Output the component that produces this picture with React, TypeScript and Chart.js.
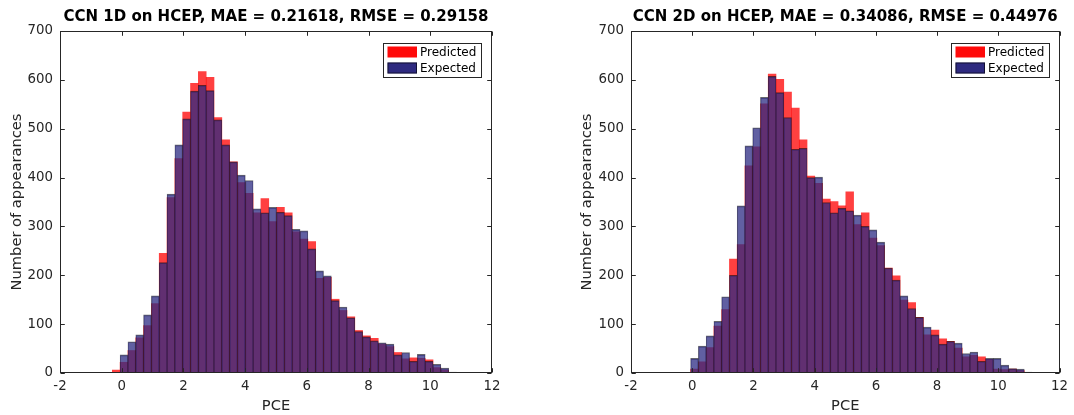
import React, { useEffect, useRef } from "react";
import { Chart, registerables } from "chart.js";

Chart.register(...registerables);

// ---- data ----
const binStart = -0.305;
const binWidth = 0.2535;

const xTickValues = [-2, 0, 2, 4, 6, 8, 10, 12];
const yTickValues = [0, 100, 200, 300, 400, 500, 600, 700];

const seriesNames = ["Predicted", "Expected"];

const titles = [
  "CCN 1D on HCEP, MAE = 0.21618, RMSE = 0.29158",
  "CCN 2D on HCEP, MAE = 0.34086, RMSE = 0.44976",
];

const predicted1D = [
  6, 22, 46, 72, 97, 142, 245, 359, 439, 534, 593, 617, 605, 523, 477, 432, 390, 368, 328, 357,
  310, 339, 328, 289, 274, 269, 194, 196, 151, 128, 115, 87, 76, 71, 59, 54, 42, 29, 31, 30,
  27, 11, 6, 1, 1,
];
const expected1D = [
  0, 37, 64, 78, 119, 158, 226, 366, 467, 520, 577, 589, 578, 518, 467, 432, 405, 394, 336, 328,
  339, 329, 322, 294, 291, 254, 209, 199, 148, 135, 113, 85, 74, 66, 62, 59, 37, 42, 24, 38,
  24, 18, 10, 2, 1,
];
const predicted2D = [
  0, 8, 23, 52, 96, 130, 233, 263, 424, 463, 551, 612, 601, 575, 542, 477, 403, 388, 356, 351,
  342, 371, 304, 328, 276, 261, 215, 199, 149, 144, 114, 78, 88, 70, 65, 51, 33, 36, 33, 28,
  8, 7, 8, 5, 1,
];
const expected2D = [
  0, 30, 55, 76, 106, 156, 200, 342, 465, 502, 564, 607, 574, 523, 458, 460, 400, 401, 349, 328,
  337, 332, 323, 300, 293, 268, 215, 190, 158, 132, 114, 94, 78, 59, 65, 61, 40, 43, 24, 30,
  30, 16, 9, 8, 2,
];

// ---- styles ----
const FONT = "'DejaVu Sans', sans-serif";
const AXIS_COLOR = "#262626";
const PRED_FILL = "rgba(255,0,0,0.75)";
const EXP_FILL = "rgba(42,40,130,0.74)";
const EXP_EDGE = "rgba(10,10,20,0.62)";
const LEGEND_FILLS = ["#ff0a0a", "#2e2a80"];

function toPoints(values: number[]) {
  return values.map((v, k) => ({
    x: binStart + (k + 0.5) * binWidth,
    y: v === 0 ? null : v,
  }));
}

const decorPlugin = {
  id: "matlabDecor",
  afterDraw(chart: any, _args: any, opts: any) {
    const { ctx, chartArea: a } = chart;
    const xs = chart.scales.x;
    const ys = chart.scales.y;
    ctx.save();

    // title
    ctx.fillStyle = "#000";
    ctx.font = `bold 15px ${FONT}`;
    ctx.textAlign = "center";
    ctx.textBaseline = "middle";
    ctx.fillText(opts.title, (a.left + a.right) / 2, 17.5);

    // box
    ctx.strokeStyle = AXIS_COLOR;
    ctx.lineWidth = 1;
    const L = Math.round(a.left) + 0.5;
    const R = Math.round(a.right) - 0.5;
    const T = Math.round(a.top) + 0.5;
    const B = Math.round(a.bottom) - 0.5;
    ctx.strokeRect(L, T, R - L, B - T);

    // inward ticks
    const tl = 4.3;
    ctx.beginPath();
    xTickValues.forEach((v) => {
      const px = Math.round(xs.getPixelForValue(v)) + 0.5;
      ctx.moveTo(px, B);
      ctx.lineTo(px, B - tl);
      ctx.moveTo(px, T);
      ctx.lineTo(px, T + tl);
    });
    yTickValues.forEach((v) => {
      const py = Math.round(ys.getPixelForValue(v)) + 0.5;
      ctx.moveTo(L, py);
      ctx.lineTo(L + tl, py);
      ctx.moveTo(R, py);
      ctx.lineTo(R - tl, py);
    });
    ctx.stroke();

    // legend
    const boxW = 98;
    const boxH = 34;
    const bx = Math.round(a.right - 11 - boxW);
    const by = Math.round(a.top + 12);
    ctx.fillStyle = "#fff";
    ctx.fillRect(bx, by, boxW, boxH);
    ctx.strokeStyle = AXIS_COLOR;
    ctx.strokeRect(bx + 0.5, by + 0.5, boxW, boxH);
    ctx.font = `12px ${FONT}`;
    ctx.textAlign = "left";
    ctx.textBaseline = "middle";
    chart.data.datasets.forEach((ds: any, i: number) => {
      const cy = by + 9 + i * 16;
      ctx.fillStyle = LEGEND_FILLS[i];
      ctx.fillRect(bx + 4.5, cy - 5.5, 29.5, 11);
      if (i === 1) {
        ctx.strokeStyle = "rgba(0,0,0,0.6)";
        ctx.strokeRect(bx + 5, cy - 5, 28.5, 10);
      }
      ctx.fillStyle = "#000";
      ctx.fillText(ds.label, bx + 37, cy + 0.5);
    });

    ctx.restore();
  },
};

function makeConfig(title: string, pred: number[], exp: number[], padLeft: number, yWidth: number, padRight: number): any {
  return {
    type: "bar",
    data: {
      datasets: [
        {
          label: seriesNames[0],
          data: toPoints(pred),
          backgroundColor: PRED_FILL,
          borderWidth: 0,
          grouped: false,
          order: 2,
          barPercentage: 1,
          categoryPercentage: 1,
        },
        {
          label: seriesNames[1],
          data: toPoints(exp),
          backgroundColor: EXP_FILL,
          borderColor: EXP_EDGE,
          borderWidth: { top: 1, left: 0.55, right: 0.55, bottom: 0 },
          borderSkipped: false,
          grouped: false,
          order: 1,
          barPercentage: 1,
          categoryPercentage: 1,
        },
      ],
    },
    options: {
      responsive: false,
      animation: false,
      layout: { padding: { left: padLeft, right: padRight, top: 31, bottom: 0 } },
      plugins: {
        legend: { display: false },
        tooltip: { enabled: false },
        title: { display: false },
        matlabDecor: { title },
      },
      scales: {
        x: {
          type: "linear",
          min: -2,
          max: 12,
          offset: false,
          grid: { display: false, drawTicks: false },
          border: { display: false },
          ticks: {
            stepSize: 2,
            color: AXIS_COLOR,
            font: { family: FONT, size: 13.33 },
            padding: 6,
            maxRotation: 0,
            autoSkip: false,
          },
          title: {
            display: true,
            text: "PCE",
            color: AXIS_COLOR,
            font: { family: FONT, size: 14.67 },
            padding: 0,
          },
          afterFit(scale: any) {
            scale.height = 42;
          },
        },
        y: {
          type: "linear",
          min: 0,
          max: 700,
          grid: { display: false, drawTicks: false },
          border: { display: false },
          ticks: {
            stepSize: 100,
            color: AXIS_COLOR,
            font: { family: FONT, size: 13.33 },
            padding: 7,
          },
          title: {
            display: true,
            text: "Number of appearances",
            color: AXIS_COLOR,
            font: { family: FONT, size: 14.67 },
            padding: 0,
          },
          afterFit(scale: any) {
            scale.width = yWidth;
          },
        },
      },
    },
    plugins: [decorPlugin],
  };
}

function HistChart(props: { cfg: any; left: number }) {
  const ref = useRef<HTMLCanvasElement | null>(null);
  useEffect(() => {
    if (!ref.current) return;
    const chart = new Chart(ref.current, props.cfg);
    return () => chart.destroy();
  }, []);
  return (
    <canvas
      ref={ref}
      width={537}
      height={415}
      style={{ position: "absolute", left: props.left, top: 0, width: 537, height: 415 }}
    />
  );
}

export default function App() {
  Chart.defaults.font.family = FONT;
  const cfg1 = makeConfig(titles[0], predicted1D, expected1D, 8, 52, 45);
  const cfg2 = makeConfig(titles[1], predicted2D, expected2D, 41, 53, 12);
  return (
    <div style={{ position: "absolute", left: 0, top: 0, width: 1074, height: 415, background: "#fff" }}>
      <HistChart cfg={cfg1} left={0} />
      <HistChart cfg={cfg2} left={537} />
    </div>
  );
}
